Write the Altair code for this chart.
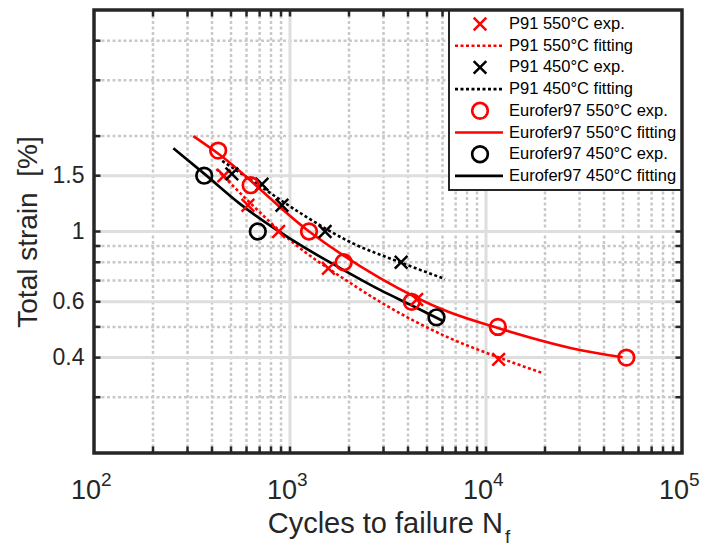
import altair as alt
import pandas as pd

# ---------------- data ----------------
# experimental points (cycles to failure, total strain %)
p91_550_exp_N = [460, 610, 875, 1570, 4430, 11600]
p91_550_exp_e = [1.50, 1.21, 1.00, 0.765, 0.61, 0.395]
p91_450_exp_N = [505, 720, 910, 1510, 3690]
p91_450_exp_e = [1.52, 1.41, 1.21, 1.00, 0.80]
eu550_exp_N = [430, 630, 1250, 1880, 4180, 11500, 52000]
eu550_exp_e = [1.80, 1.40, 1.00, 0.80, 0.60, 0.50, 0.40]
eu450_exp_N = [365, 685, 5590]
eu450_exp_e = [1.50, 1.00, 0.536]

# fitting curves
p91_550_fit_N = [421, 627, 1000, 2030, 2880, 6320, 11800, 19300]
p91_550_fit_e = [1.575, 1.23, 0.94, 0.688, 0.60, 0.465, 0.399, 0.358]
p91_450_fit_N = [451, 705, 1127, 2075, 3640, 6175]
p91_450_fit_e = [1.67, 1.39, 1.144, 0.92, 0.80, 0.708]
eu550_fit_N = [321, 431, 1252, 2880, 6320, 11500, 30100, 49800]
eu550_fit_e = [2.00, 1.76, 1.00, 0.713, 0.56, 0.496, 0.423, 0.401]
eu450_fit_N = [254, 366, 558, 1127, 1800, 2880, 4240, 6030]
eu450_fit_e = [1.83, 1.52, 1.22, 0.907, 0.767, 0.654, 0.582, 0.522]

# axes
x_domain = [100, 100000]
y_domain = [0.2, 5]
x_major = [1000, 10000]
x_minor = [200, 300, 400, 500, 600, 700, 800, 900,
           2000, 3000, 4000, 5000, 6000, 7000, 8000, 9000,
           20000, 30000, 40000, 50000, 60000, 70000, 80000, 90000]
y_major = [0.4, 0.6, 1, 1.5]
y_minor = [0.3, 0.5, 0.7, 0.8, 0.9, 2, 3, 4]
x_label_vals = [100, 1000, 10000, 100000]
x_label_exps = ["2", "3", "4", "5"]

legend_labels = ["P91 550°C exp.", "P91 550°C fitting",
                 "P91 450°C exp.", "P91 450°C fitting",
                 "Eurofer97 550°C exp.", "Eurofer97 550°C fitting",
                 "Eurofer97 450°C exp.", "Eurofer97 450°C fitting"]

# ---------------- styling ----------------
W, H = 588, 443
FONT = "Liberation Sans"
TXT = "#262626"
RED = "#ff0000"
BLK = "#000000"
X_PATH = "M-1,-1L1,1M-1,1L1,-1"
DOT = [3, 2.5]

xs = alt.Scale(type="log", domain=x_domain, nice=False)
ys = alt.Scale(type="log", domain=y_domain, nice=False)

Y_AX = alt.Axis(values=y_major, format="~g", labelFont=FONT, labelFontSize=23,
                labelColor=TXT, labelPadding=10, labelOverlap=False,
                ticks=False, domain=False, grid=False,
                title="Total strain\u00a0 [%]", titleFont=FONT, titleFontSize=28,
                titleFontWeight="normal", titleColor=TXT, titleAngle=270,
                titleX=-58, titleY=H / 2, titleBaseline="alphabetic",
                titleAlign="center")


def X(field="N"):
    return alt.X(f"{field}:Q", scale=xs, axis=None)


def Y(field="e"):
    return alt.Y(f"{field}:Q", scale=ys, axis=Y_AX)


one = pd.DataFrame({"k": [0]})
layers = []

# grid
layers.append(alt.Chart(pd.DataFrame({"N": x_minor})).mark_rule(
    color="#c9c9c9", strokeWidth=2.5, strokeDash=DOT).encode(x=X()))
layers.append(alt.Chart(pd.DataFrame({"e": y_minor})).mark_rule(
    color="#c9c9c9", strokeWidth=2.5, strokeDash=DOT).encode(y=Y()))
layers.append(alt.Chart(pd.DataFrame({"N": x_major})).mark_rule(
    color="#dedede", strokeWidth=3).encode(x=X()))
layers.append(alt.Chart(pd.DataFrame({"e": y_major})).mark_rule(
    color="#dedede", strokeWidth=3).encode(y=Y()))


def fit(N, e, color, dash=None):
    kw = dict(color=color, strokeWidth=2.6, interpolate="monotone")
    if dash:
        kw["strokeDash"] = dash
    return alt.Chart(pd.DataFrame({"N": N, "e": e})).mark_line(**kw).encode(x=X(), y=Y())


def exp(N, e, color, shape):
    if shape == "x":
        m = dict(shape=X_PATH, size=160, strokeWidth=2.5)
    else:
        m = dict(shape="circle", size=245, strokeWidth=2.7)
    return alt.Chart(pd.DataFrame({"N": N, "e": e})).mark_point(
        filled=False, color=color, opacity=1, **m).encode(x=X(), y=Y())


layers += [
    fit(p91_550_fit_N, p91_550_fit_e, RED, DOT),
    fit(p91_450_fit_N, p91_450_fit_e, BLK, DOT),
    fit(eu550_fit_N, eu550_fit_e, RED),
    fit(eu450_fit_N, eu450_fit_e, BLK),
    exp(p91_550_exp_N, p91_550_exp_e, RED, "x"),
    exp(p91_450_exp_N, p91_450_exp_e, BLK, "x"),
    exp(eu550_exp_N, eu550_exp_e, RED, "o"),
    exp(eu450_exp_N, eu450_exp_e, BLK, "o"),
]

# tick marks (inside, on all four sides)
x_ticks = pd.DataFrame({"N": x_major + x_minor})
y_ticks = pd.DataFrame({"e": y_major + y_minor})
TL = 6.5
layers += [
    alt.Chart(x_ticks).mark_rule(color=TXT, strokeWidth=2.5).encode(
        x=X(), y=alt.value(H - TL), y2=alt.value(H)),
    alt.Chart(x_ticks).mark_rule(color=TXT, strokeWidth=2.5).encode(
        x=X(), y=alt.value(0), y2=alt.value(TL)),
    alt.Chart(y_ticks).mark_rule(color=TXT, strokeWidth=2.5).encode(
        y=Y(), x=alt.value(0), x2=alt.value(TL)),
    alt.Chart(y_ticks).mark_rule(color=TXT, strokeWidth=2.5).encode(
        y=Y(), x=alt.value(W - TL), x2=alt.value(W)),
]

# legend
LX0, LX1, LY0, LY1 = 355, W, 0, 180
layers.append(alt.Chart(one).mark_rect(fill="white", stroke=TXT, strokeWidth=2).encode(
    x=alt.value(LX0), x2=alt.value(LX1), y=alt.value(LY0), y2=alt.value(LY1)))
legend_kind = [("x", RED), ("dot", RED), ("x", BLK), ("dot", BLK),
               ("o", RED), ("line", RED), ("o", BLK), ("line", BLK)]
for i, (lab, (kind, col)) in enumerate(zip(legend_labels, legend_kind)):
    cy = 14 + 21.7 * i
    if kind == "x":
        layers.append(alt.Chart(one).mark_point(
            shape=X_PATH, size=160, strokeWidth=2.5, filled=False, color=col, opacity=1
        ).encode(x=alt.value(386), y=alt.value(cy)))
    elif kind == "o":
        layers.append(alt.Chart(one).mark_point(
            shape="circle", size=245, strokeWidth=2.7, filled=False, color=col, opacity=1
        ).encode(x=alt.value(386), y=alt.value(cy)))
    else:
        kw = dict(color=col, strokeWidth=2.6)
        if kind == "dot":
            kw["strokeDash"] = DOT
        layers.append(alt.Chart(one).mark_rule(**kw).encode(
            x=alt.value(361), x2=alt.value(409), y=alt.value(cy)))
    layers.append(alt.Chart(one).mark_text(
        text=lab, align="left", baseline="middle", font=FONT, fontSize=16.5, color=BLK
    ).encode(x=alt.value(415), y=alt.value(cy)))

# frame
layers.append(alt.Chart(one).mark_rect(fill="white", fillOpacity=0, stroke=TXT, strokeWidth=3.5).encode(
    x=alt.value(0), x2=alt.value(W), y=alt.value(0), y2=alt.value(H)))

# x tick labels 10^k
xl = pd.DataFrame({"N": x_label_vals, "base": ["10"] * 4, "exp": x_label_exps})
layers.append(alt.Chart(xl).mark_text(
    align="right", baseline="alphabetic", dx=7, font=FONT, fontSize=27, color=TXT
).encode(x=X(), y=alt.value(H + 46), text="base:N"))
layers.append(alt.Chart(xl).mark_text(
    align="left", baseline="alphabetic", dx=7, font=FONT, fontSize=19, color=TXT
).encode(x=X(), y=alt.value(H + 33), text="exp:N"))

# x title with subscript
layers.append(alt.Chart(one).mark_text(
    text="Cycles to failure N", align="right", baseline="alphabetic",
    font=FONT, fontSize=29, color=TXT).encode(x=alt.value(409), y=alt.value(H + 80)))
layers.append(alt.Chart(one).mark_text(
    text="f", align="left", baseline="alphabetic",
    font=FONT, fontSize=19, color=TXT).encode(x=alt.value(411), y=alt.value(H + 90)))

chart = alt.layer(*layers).properties(
    width=W, height=H,
    autosize=alt.AutoSizeParams(type="none"),
    padding={"left": 94, "top": 10, "right": 22, "bottom": 96},
    background="white",
).configure_view(strokeWidth=0)

chart.save("out.html", embed_options={"renderer": "svg", "actions": False})
